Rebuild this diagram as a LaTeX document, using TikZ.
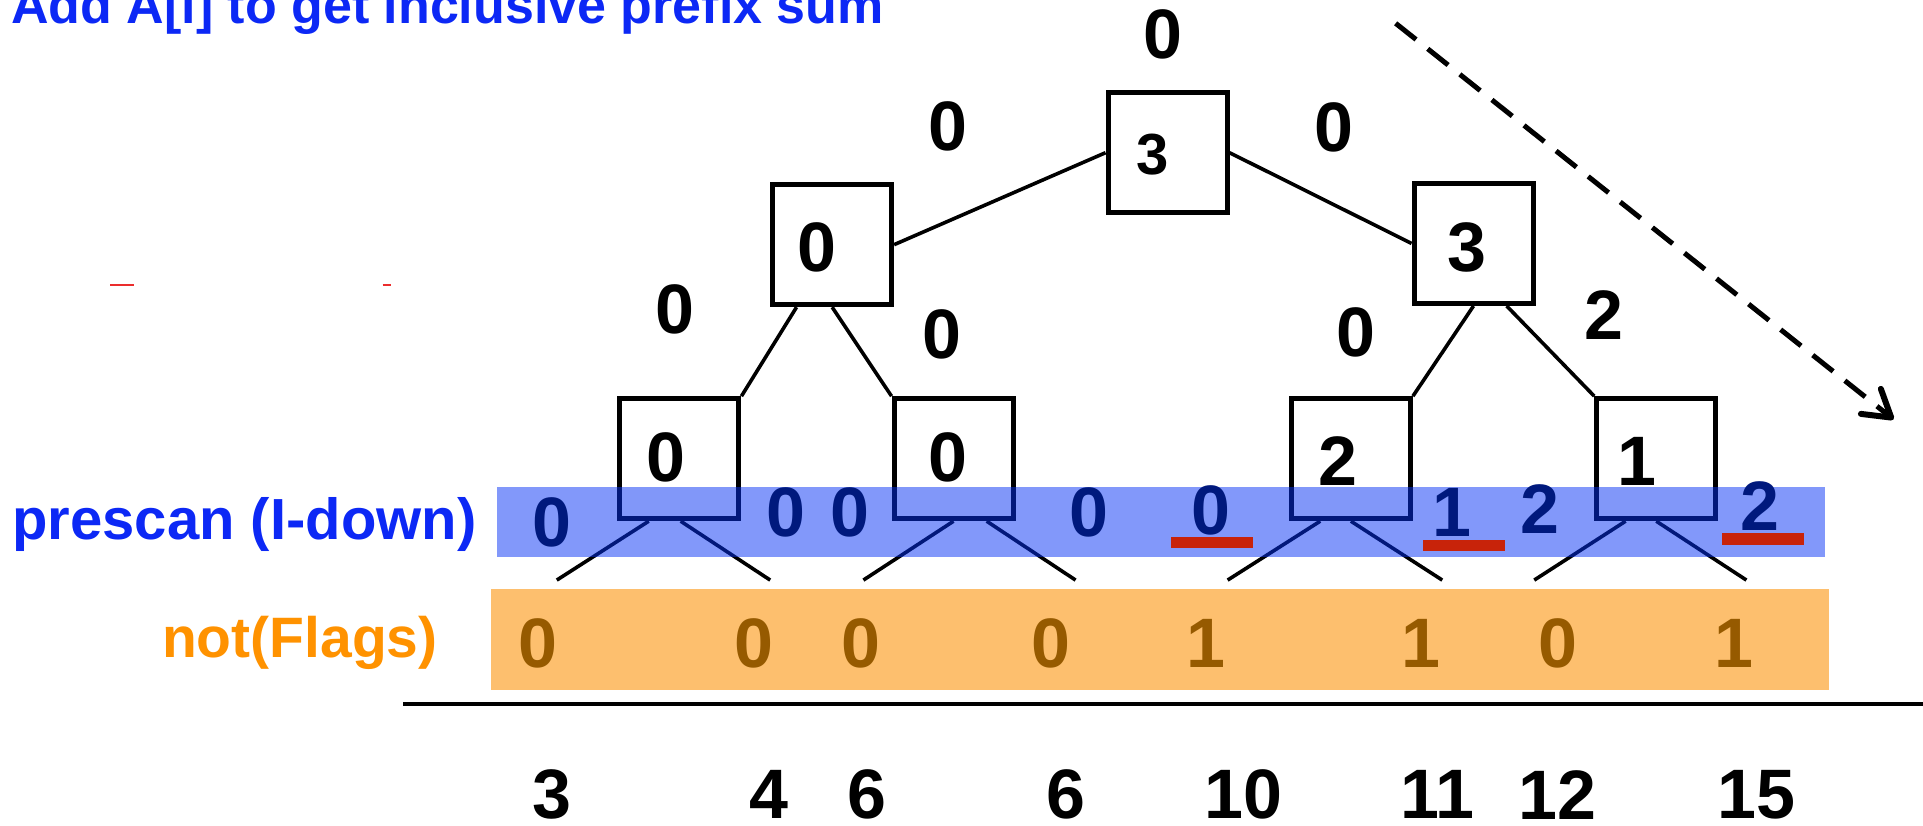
\documentclass[tikz,border=0pt]{standalone}
\usepackage{fontspec}
\setmainfont{Liberation Sans}
\usetikzlibrary{arrows.meta,calc}
\definecolor{ttlblue}{RGB}{12,40,245}
\definecolor{bandblue}{RGB}{5,49,245}
\definecolor{navyd}{RGB}{0,25,125}
\definecolor{ulred}{RGB}{200,35,10}
\definecolor{bandorange}{RGB}{253,191,110}
\definecolor{lblorange}{RGB}{255,146,0}
\definecolor{flagbrown}{RGB}{150,90,0}
\definecolor{markred}{RGB}{235,45,45}
\tikzset{
  treebox/.style={draw, line width=5pt, minimum width=119pt, minimum height=120pt, inner sep=0pt, fill=white},
  treeedge/.style={line width=3.6pt},
  dig/.style={font=\fontsize{70}{70}\selectfont\bfseries, inner sep=0pt},
  smalldig/.style={font=\fontsize{58}{58}\selectfont\bfseries, inner sep=0pt},
  pre/.style={dig, text=navyd},
  flg/.style={dig, text=flagbrown},
  ulbar/.style={fill=ulred},
  lbl/.style={inner sep=0pt, anchor=base west, font=\fontsize{58}{58}\selectfont\bfseries}
}
\begin{document}
\begin{tikzpicture}[x=1.2264pt,y=-1.2264pt]
\useasboundingbox (0,0) rectangle (1568,673);

% title
\node[lbl, text=ttlblue, font=\fontsize{52}{52}\selectfont\bfseries] (title) at (9,19) {Add A[i] to get inclusive prefix sum};

% tiny red marks
\coordinate (m1a) at (90,232); \coordinate (m1b) at (109,232);
\coordinate (m2a) at (312,232); \coordinate (m2b) at (319,232);
\draw[markred, line width=2pt] (m1a) -- (m1b);
\draw[markred, line width=2pt] (m2a) -- (m2b);

% tree boxes
\node[treebox] (root) at (952,124.5) {};
\node[treebox] (l1l) at (678.5,199.5) {};
\node[treebox] (l1r) at (1201.5,198.5) {};
\node[treebox] (ll) at (554,374) {};
\node[treebox] (lr) at (777.5,374) {};
\node[treebox] (rl) at (1101.5,374) {};
\node[treebox] (rr) at (1350.5,374) {};

% leaf coordinates
\coordinate (f1) at (454,473);
\coordinate (f2) at (628,473);
\coordinate (f3) at (704,473);
\coordinate (f4) at (877,473);
\coordinate (f5) at (1001,473);
\coordinate (f6) at (1176,473);
\coordinate (f7) at (1251,473);
\coordinate (f8) at (1424,473);

% tree edges
\draw[treeedge] (root.west) -- (l1l.east);
\draw[treeedge] (root.east) -- (l1r.west);
\draw[treeedge] ($(l1l.south)+(-29,0)$) -- (ll.north east);
\draw[treeedge] (l1l.south) -- (lr.north west);
\draw[treeedge] (l1r.south) -- (rl.north east);
\draw[treeedge] ($(l1r.south)+(27,0)$) -- (rr.north west);
\draw[treeedge] ($(ll.south)+(-25,0)$) -- (f1);
\draw[treeedge] ($(ll.south)+(1,0)$) -- (f2);
\draw[treeedge] (lr.south) -- (f3);
\draw[treeedge] ($(lr.south)+(27,0)$) -- (f4);
\draw[treeedge] ($(rl.south)+(-25,0)$) -- (f5);
\draw[treeedge] (rl.south) -- (f6);
\draw[treeedge] ($(rr.south)+(-25,0)$) -- (f7);
\draw[treeedge] (rr.south) -- (f8);

% box values
\node[smalldig] (vroot) at (940,126) {3};
\node[dig] (vl1l) at (666,202) {0};
\node[dig] (vl1r) at (1196,202) {3};
\node[dig] (vll) at (543,373) {0};
\node[dig] (vlr) at (773,373) {0};
\node[dig] (vrl) at (1091,376) {2};
\node[dig] (vrr) at (1335,376) {1};

% edge labels
\node[dig] (e0) at (948,28) {0};
\node[dig] (e1) at (773,103) {0};
\node[dig] (e2) at (1088,104) {0};
\node[dig] (e3) at (550,252) {0};
\node[dig] (e4) at (768,273) {0};
\node[dig] (e5) at (1106,271) {0};
\node[dig] (e6) at (1308,257) {2};

% blue band
\fill[bandblue, fill opacity=0.5] (405,397) rectangle (1488,454);
\node[lbl, text=ttlblue] (prelbl) at (10,440) {prescan (I-down)};

% prescan values
\node[pre] (p1) at (450,426) {0};
\node[pre] (p2) at (641,418) {0};
\node[pre] (p3) at (693,418) {0};
\node[pre] (p4) at (888,418) {0};
\node[pre] (p5) at (987,416) {0};
\node[pre] (p6) at (1184,418) {1};
\node[pre] (p7) at (1256,415) {2};
\node[pre] (p8) at (1435,413) {2};
\fill[ulbar] (955,438) rectangle (1022,447);
\fill[ulbar] (1160,440) rectangle (1227,449);
\fill[ulbar] (1404,435) rectangle (1471,444);

% orange band
\fill[bandorange] (400,480) rectangle (1491,563);
\node[lbl, text=lblorange, font=\fontsize{57}{57}\selectfont\bfseries] (flglbl) at (132,536.5) {not(Flags)};
\node[flg] (g1) at (439,525) {0};
\node[flg] (g2) at (615,525) {0};
\node[flg] (g3) at (702,525) {0};
\node[flg] (g4) at (857,525) {0};
\node[flg] (g5) at (983,525) {1};
\node[flg] (g6) at (1159,525) {1};
\node[flg] (g7) at (1270,525) {0};
\node[flg] (g8) at (1414,525) {1};

% axis line
\coordinate (axl) at (329,574);
\coordinate (axr) at (1568,574);
\draw[line width=4.5pt] (axl) -- (axr);

% results
\node[dig] (r1) at (450,648) {3};
\node[dig] (r2) at (627,648) {4};
\node[dig] (r3) at (707,648) {6};
\node[dig] (r4) at (869,648) {6};
\node[dig] (r5) at (1014,648) {10};
\node[dig] (r6) at (1172,648) {11};
\node[dig] (r7) at (1270,648) {12};
\node[dig] (r8) at (1432,648) {15};

% dashed arrow
\coordinate (da) at (1138,19);
\coordinate (db) at (1544,342);
\draw[line width=5pt, dash pattern=on 26pt off 15pt, -{Straight Barb[length=26pt,width=32pt,line width=6pt,round]}] (da) -- (db);
\end{tikzpicture}
\end{document}
